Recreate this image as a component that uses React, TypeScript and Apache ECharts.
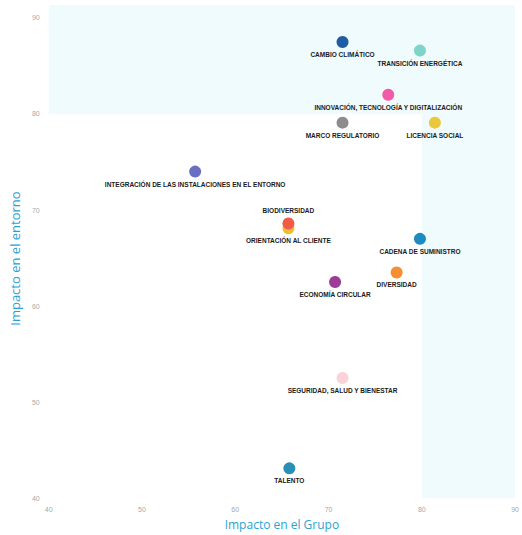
import React, { useEffect, useRef } from "react";
import * as echarts from "echarts";

const topicNames = [
  "CAMBIO CLIMÁTICO",
  "TRANSICIÓN ENERGÉTICA",
  "INNOVACIÓN, TECNOLOGÍA Y DIGITALIZACIÓN",
  "MARCO REGULATORIO",
  "LICENCIA SOCIAL",
  "INTEGRACIÓN DE LAS INSTALACIONES EN EL ENTORNO",
  "ORIENTACIÓN AL CLIENTE",
  "BIODIVERSIDAD",
  "CADENA DE SUMINISTRO",
  "DIVERSIDAD",
  "ECONOMÍA CIRCULAR",
  "SEGURIDAD, SALUD Y BIENESTAR",
  "TALENTO",
];
const impactoGrupo = [71.5, 79.8, 76.4, 71.5, 81.4, 55.7, 65.7, 65.7, 79.8, 77.3, 70.7, 71.5, 65.8];
const impactoEntorno = [87.5, 86.6, 82.0, 79.1, 79.1, 74.0, 68.1, 68.6, 67.0, 63.5, 62.5, 52.5, 43.1];
const xTicks = [40, 50, 60, 70, 80, 90];
const yTicks = [40, 50, 60, 70, 80, 90];
const threshold = 80;
const yTop = 91.35;

// styles
const pointColors = [
  "#1f5ca6",
  "#7fd4c9",
  "#f25aaa",
  "#8c8c8c",
  "#e9c83c",
  "#6b6fc4",
  "#f2be2e",
  "#f05a48",
  "#1e8bbf",
  "#f58f34",
  "#9a3c98",
  "#fbd2da",
  "#2a8fb4",
];
const labelAbove = new Set(["BIODIVERSIDAD"]);

export default function App() {
  const ref = useRef<HTMLDivElement>(null);
  useEffect(() => {
    if (!ref.current) return;
    const chart = echarts.init(ref.current, null, { renderer: "svg" });
    const data = topicNames.map((name, i) => ({
      name,
      value: [impactoGrupo[i], impactoEntorno[i]],
      itemStyle: { color: pointColors[i], opacity: 1 },
      label: { position: labelAbove.has(name) ? "top" : "bottom" },
    }));
    const shade = "#f0fbfd";
    const xMin = xTicks[0];
    const xMax = xTicks[xTicks.length - 1];
    chart.setOption({
      animation: false,
      backgroundColor: "#ffffff",
      grid: { left: 45, right: 2, top: 5, bottom: 32 },
      xAxis: {
        type: "value",
        min: xMin,
        max: xMax,
        interval: 10,
        name: "Impacto en el Grupo",
        nameLocation: "middle",
        nameGap: 19,
        nameTextStyle: { color: "#2aa3d2", fontSize: 12, fontFamily: "Open Sans" },
        axisLine: { show: false },
        axisTick: { show: false },
        splitLine: { show: false },
        axisLabel: { color: "#a8a8a8", fontSize: 7, margin: 8, fontFamily: "Liberation Sans" },
      },
      yAxis: {
        type: "value",
        min: yTicks[0],
        max: yTop,
        interval: 10,
        name: "Impacto en el entorno",
        nameLocation: "middle",
        nameGap: 23,
        nameTextStyle: {
          color: "#2aa3d2",
          fontSize: 13,
          fontFamily: "Open Sans",
          padding: [0, 14, 0, 0],
        },
        axisLine: { show: false },
        axisTick: { show: false },
        splitLine: { show: false },
        axisLabel: {
          color: "#a8a8a8",
          fontSize: 7,
          margin: 9,
          fontFamily: "Liberation Sans",
          formatter: (v: number) => (yTicks.includes(v) ? String(v) : ""),
        },
      },
      series: [
        {
          type: "scatter",
          symbolSize: 12,
          data,
          label: {
            show: true,
            formatter: "{b}",
            distance: 3,
            color: "#1a1a1a",
            fontSize: 6.5,
            fontWeight: "bold",
            fontFamily: "Liberation Sans",
          },
          markArea: {
            silent: true,
            itemStyle: { color: shade, opacity: 1 },
            data: [
              [
                { xAxis: xMin, yAxis: threshold },
                { xAxis: xMax, yAxis: yTop },
              ],
              [
                { xAxis: threshold, yAxis: yTicks[0] },
                { xAxis: xMax, yAxis: yTop },
              ],
            ],
          },
          z: 3,
        },
      ],
    });
    return () => chart.dispose();
  }, []);
  return (
    <div
      ref={ref}
      style={{ position: "fixed", left: 0, top: 0, width: 522, height: 535 }}
    />
  );
}
